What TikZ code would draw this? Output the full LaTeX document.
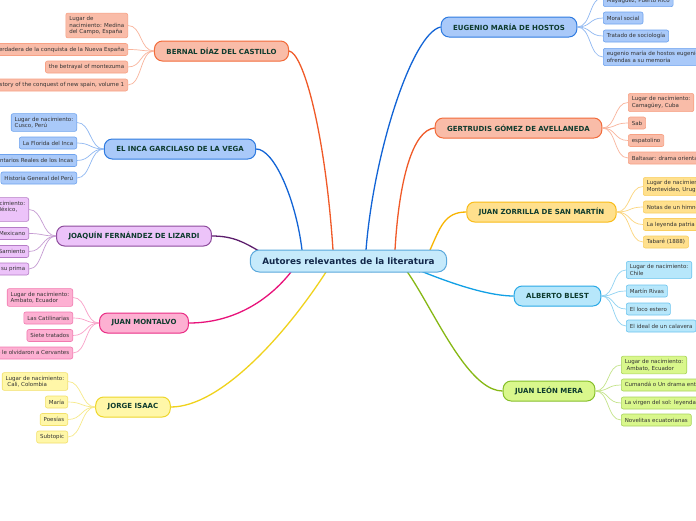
\documentclass[tikz,border=0pt]{standalone}
\usepackage{fontspec}
\setmainfont{DejaVu Sans}
\definecolor{salF}{HTML}{F9BCA8}\definecolor{salB}{HTML}{F26B3A}\definecolor{salLB}{HTML}{F7A184}\definecolor{salC}{HTML}{F05A28}\definecolor{salLC}{HTML}{F9B49C}
\definecolor{bluF}{HTML}{A9C9F9}\definecolor{bluB}{HTML}{2F7BE0}\definecolor{bluLB}{HTML}{6EA3EE}\definecolor{bluC}{HTML}{1264D6}\definecolor{bluLC}{HTML}{8FB8F2}
\definecolor{purF}{HTML}{ECC3F9}\definecolor{purB}{HTML}{8D4B9C}\definecolor{purLB}{HTML}{B57CC6}\definecolor{purC}{HTML}{5C1D6C}\definecolor{purLC}{HTML}{C59BD2}
\definecolor{pinF}{HTML}{FDB0D2}\definecolor{pinB}{HTML}{EA2D85}\definecolor{pinLB}{HTML}{F27AB0}\definecolor{pinC}{HTML}{E8127A}\definecolor{pinLC}{HTML}{F9A0C8}
\definecolor{yelF}{HTML}{FFF7A8}\definecolor{yelB}{HTML}{EED62A}\definecolor{yelLB}{HTML}{F2E06A}\definecolor{yelC}{HTML}{F0D21C}\definecolor{yelLC}{HTML}{F7EA8A}
\definecolor{ambF}{HTML}{FFE08D}\definecolor{ambB}{HTML}{F9BC18}\definecolor{ambLB}{HTML}{F9CF62}\definecolor{ambC}{HTML}{F8B400}\definecolor{ambLC}{HTML}{FCD67E}
\definecolor{cyaF}{HTML}{B7E7FB}\definecolor{cyaB}{HTML}{2AA9E6}\definecolor{cyaLB}{HTML}{6CC4EE}\definecolor{cyaC}{HTML}{12A0E5}\definecolor{cyaLC}{HTML}{8FD2F2}
\definecolor{greF}{HTML}{D9F78C}\definecolor{greB}{HTML}{86BF2A}\definecolor{greLB}{HTML}{A8D45C}\definecolor{greC}{HTML}{86B814}\definecolor{greLC}{HTML}{C4E48A}
\definecolor{cenF}{HTML}{C6EAFB}\definecolor{cenB}{HTML}{5AA8DC}\definecolor{cenT}{HTML}{13294B}
\definecolor{topT}{HTML}{0E3B2E}\definecolor{leafT}{HTML}{333333}
\begin{document}
\begin{tikzpicture}[x=1pt,y=-1pt,
  leaf/.style 2 args={draw=#1, fill=#2, line width=0.6pt, rounded corners=2pt,
    font=\fontsize{5.5}{6.5}\selectfont, text=leafT, align=left,
    inner xsep=3.5pt, inner ysep=3.2pt, minimum height=12pt},
  topic/.style 2 args={draw=#1, fill=#2, line width=1pt, rounded corners=8pt,
    font=\bfseries\fontsize{7}{8}\selectfont, text=topT,
    minimum height=20pt, inner xsep=12pt},
  central/.style={draw=cenB, fill=cenF, line width=1pt, rounded corners=9pt,
    font=\bfseries\fontsize{8.8}{10}\selectfont, text=cenT,
    minimum height=22pt, inner xsep=12pt},
  conn/.style={draw=#1, line width=1.3pt},
  lconn/.style={draw=#1, line width=0.7pt}]
\useasboundingbox (0,0) rectangle (696,520);
\fill[white] (0,0) rectangle (696,520);
\clip (0,0) rectangle (696,520);

% central attachment points
\coordinate (cBer) at (333,250);
\coordinate (cGar) at (302,250);
\coordinate (cLiz) at (259,251);
\coordinate (cMon) at (291,272);
\coordinate (cIsa) at (326,272);
\coordinate (cHos) at (366,250);
\coordinate (cGer) at (395,250);
\coordinate (cZor) at (430,250);
\coordinate (cBle) at (420,272);
\coordinate (cMer) at (371,272);

% topics
\node[topic={salB}{salF}] (bernal) at (221.5,51) {BERNAL DÍAZ DEL CASTILLO};
\node[topic={bluB}{bluF}] (garci) at (180,149) {EL INCA GARCILASO DE LA VEGA};
\node[topic={purB}{purF}] (lizardi) at (134,236) {JOAQUÍN FERNÁNDEZ DE LIZARDI};
\node[topic={pinB}{pinF}] (montalvo) at (144,323) {JUAN MONTALVO};
\node[topic={yelB}{yelF}] (isaac) at (133,407) {JORGE ISAAC};
\node[topic={bluB}{bluF}] (hostos) at (509,27) {EUGENIO MARÍA DE HOSTOS};
\node[topic={salB}{salF}] (gertru) at (518.5,128) {GERTRUDIS GÓMEZ DE AVELLANEDA};
\node[topic={ambB}{ambF}] (zorri) at (541.5,212) {JUAN ZORRILLA DE SAN MARTÍN};
\node[topic={cyaB}{cyaF}] (blest) at (557.5,296) {ALBERTO BLEST};
\node[topic={greB}{greF}] (mera) at (549,391) {JUAN LEÓN MERA};

% main connectors
\draw[conn=salC] (bernal.east) .. controls +(14,2) and +(-8,-120) .. (cBer);
\draw[conn=bluC] (garci.east) .. controls +(18,0) and +(-6,-50) .. (cGar);
\draw[conn=purC] (lizardi.east) .. controls +(22,0) and +(-14,-8) .. (cLiz);
\draw[conn=pinC] (montalvo.east) .. controls +(45,0) and +(-22,28) .. (cMon);
\draw[conn=yelC] (isaac.east) .. controls +(50,0) and +(-40,62) .. (cIsa);
\draw[conn=bluC] (hostos.west) .. controls +(-28,6) and +(8,-100) .. (cHos);
\draw[conn=salC] (gertru.west) .. controls +(-22,2) and +(4,-70) .. (cGer);
\draw[conn=ambC] (zorri.west) .. controls +(-22,0) and +(10,-22) .. (cZor);
\draw[conn=cyaC] (blest.west) .. controls +(-45,0) and +(-30,-16) .. (cBle);
\draw[conn=greC] (mera.west) .. controls +(-55,0) and +(25,-80) .. (cMer);

% Bernal leaves
\node[leaf={salLB}{salF}, anchor=east] (b1) at (128,25.5) {Lugar de\\nacimiento: Medina\\del Campo, España};
\node[leaf={salLB}{salF}, anchor=east] (b2) at (128,49.5) {Historia verdadera de la conquista de la Nueva España};
\node[leaf={salLB}{salF}, anchor=east] (b3) at (128,67) {the betrayal of montezuma};
\node[leaf={salLB}{salF}, anchor=east] (b4) at (128,85) {the history of the conquest of new spain, volume 1};
\foreach \l in {b1,b2,b3,b4}
  \draw[lconn=salLC] (bernal.west) .. controls +(-14,0) and +(14,0) .. (\l.east);

% Garcilaso leaves
\node[leaf={bluLB}{bluF}, anchor=east] (g1) at (77,122.5) {Lugar de nacimiento:\\Cusco, Perú};
\node[leaf={bluLB}{bluF}, anchor=east] (g2) at (77,143) {La Florida del Inca};
\node[leaf={bluLB}{bluF}, anchor=east] (g3) at (77,160.5) {Comentarios Reales de los Incas};
\node[leaf={bluLB}{bluF}, anchor=east] (g4) at (77,178) {Historia General del Perú};
\foreach \l in {g1,g2,g3,g4}
  \draw[lconn=bluLC] (garci.west) .. controls +(-14,0) and +(14,0) .. (\l.east);

% Lizardi leaves
\node[leaf={purLB}{purF}, anchor=east] (l1) at (29,209.5) {Lugar de nacimiento:\\Ciudad de México,\\México};
\node[leaf={purLB}{purF}, anchor=east] (l2) at (29,233.5) {El Pensador Mexicano};
\node[leaf={purLB}{purF}, anchor=east] (l3) at (29,251.5) {El Periquillo Sarniento};
\node[leaf={purLB}{purF}, anchor=east] (l4) at (29,269) {La Quijotita y su prima};
\foreach \l in {l1,l2,l3,l4}
  \draw[lconn=purLC] (lizardi.west) .. controls +(-14,0) and +(14,0) .. (\l.east);

% Montalvo leaves
\node[leaf={pinLB}{pinF}, anchor=east] (m1) at (73,297.5) {Lugar de nacimiento:\\Ambato, Ecuador};
\node[leaf={pinLB}{pinF}, anchor=east] (m2) at (73,318) {Las Catilinarias};
\node[leaf={pinLB}{pinF}, anchor=east] (m3) at (73,335.5) {Siete tratados};
\node[leaf={pinLB}{pinF}, anchor=east] (m4) at (73,353) {Capítulos que se le olvidaron a Cervantes};
\foreach \l in {m1,m2,m3,m4}
  \draw[lconn=pinLC] (montalvo.west) .. controls +(-14,0) and +(14,0) .. (\l.east);

% Isaac leaves
\node[leaf={yelLB}{yelF}, anchor=east] (i1) at (68,381.5) {Lugar de nacimiento:\\\ Cali, Colombia};
\node[leaf={yelLB}{yelF}, anchor=east] (i2) at (68,402) {María};
\node[leaf={yelLB}{yelF}, anchor=east] (i3) at (68,419.5) {Poesías};
\node[leaf={yelLB}{yelF}, anchor=east] (i4) at (68,437) {Subtopic};
\foreach \l in {i1,i2,i3,i4}
  \draw[lconn=yelLC] (isaac.west) .. controls +(-14,0) and +(14,0) .. (\l.east);

% Hostos leaves
\node[leaf={bluLB}{bluF}, anchor=west] (h1) at (603,-2.5) {Lugar de nacimiento:\\Mayagüez, Puerto Rico};
\node[leaf={bluLB}{bluF}, anchor=west] (h2) at (603,18) {Moral social};
\node[leaf={bluLB}{bluF}, anchor=west] (h3) at (603,36) {Tratado de sociología};
\node[leaf={bluLB}{bluF}, anchor=west] (h4) at (603,57) {eugenio maría de hostos eugenio maría de hostos:\\ofrendas a su memoria};
\foreach \l in {h1,h2,h3,h4}
  \draw[lconn=bluLC] (hostos.east) .. controls +(14,0) and +(-14,0) .. (\l.west);

% Gertrudis leaves
\node[leaf={salLB}{salF}, anchor=west] (ge1) at (628,102.5) {Lugar de nacimiento:\\Camagüey, Cuba};
\node[leaf={salLB}{salF}, anchor=west] (ge2) at (628,123) {Sab};
\node[leaf={salLB}{salF}, anchor=west] (ge3) at (628,140.5) {espatolino};
\node[leaf={salLB}{salF}, anchor=west] (ge4) at (628,158) {Baltasar: drama oriental};
\foreach \l in {ge1,ge2,ge3,ge4}
  \draw[lconn=salLC] (gertru.east) .. controls +(14,0) and +(-14,0) .. (\l.west);

% Zorrilla leaves
\node[leaf={ambLB}{ambF}, anchor=west] (z1) at (643,186.5) {Lugar de nacimiento:\\Montevideo, Uruguay};
\node[leaf={ambLB}{ambF}, anchor=west] (z2) at (643,207) {Notas de un himno};
\node[leaf={ambLB}{ambF}, anchor=west] (z3) at (643,224.5) {La leyenda patria};
\node[leaf={ambLB}{ambF}, anchor=west] (z4) at (643,242) {Tabaré (1888)};
\foreach \l in {z1,z2,z3,z4}
  \draw[lconn=ambLC] (zorri.east) .. controls +(14,0) and +(-14,0) .. (\l.west);

% Blest leaves
\node[leaf={cyaLB}{cyaF}, anchor=west] (a1) at (626,270) {Lugar de nacimiento:\\Chile};
\node[leaf={cyaLB}{cyaF}, anchor=west] (a2) at (626,291) {Martín Rivas};
\node[leaf={cyaLB}{cyaF}, anchor=west] (a3) at (626,309) {El loco estero};
\node[leaf={cyaLB}{cyaF}, anchor=west] (a4) at (626,326) {El ideal de un calavera};
\foreach \l in {a1,a2,a3,a4}
  \draw[lconn=cyaLC] (blest.east) .. controls +(14,0) and +(-14,0) .. (\l.west);

% Mera leaves
\node[leaf={greLB}{greF}, anchor=west] (r1) at (621,365) {Lugar de nacimiento:\\\ Ambato, Ecuador};
\node[leaf={greLB}{greF}, anchor=west] (r2) at (621,385) {Cumandá o Un drama entre salvajes};
\node[leaf={greLB}{greF}, anchor=west] (r3) at (621,403) {La virgen del sol: leyenda incaica};
\node[leaf={greLB}{greF}, anchor=west] (r4) at (621,420) {Novelitas ecuatorianas};
\foreach \l in {r1,r2,r3,r4}
  \draw[lconn=greLC] (mera.east) .. controls +(14,0) and +(-14,0) .. (\l.west);

% central node on top
\node[central] (cen) at (348.5,261) {Autores relevantes de la literatura};
\end{tikzpicture}
\end{document}
